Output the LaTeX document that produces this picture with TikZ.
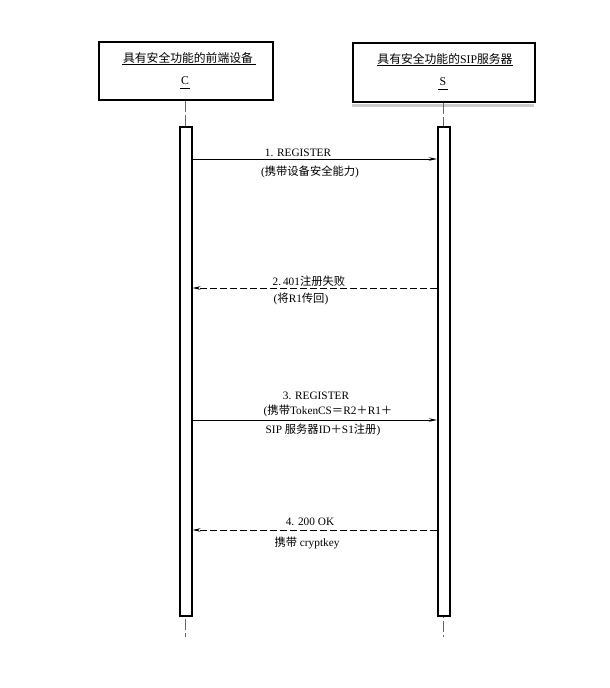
\documentclass[tikz,border=0pt]{standalone}
\usepackage{fontspec}
\setmainfont{Liberation Serif}
\newfontfamily\cjk{Noto Sans CJK SC}
\usetikzlibrary{arrows.meta}
\begin{document}
\begin{tikzpicture}[x=1pt,y=-1pt,
  actor/.style={draw,line width=1.6pt,minimum width=#1,inner sep=0pt,anchor=north west},
  bar/.style={draw,line width=1.5pt,fill=white,minimum width=12pt,inner sep=0pt,anchor=north west},
  life/.style={draw=black!60,line width=1pt,dash pattern=on 11pt off 3pt},
  msg/.style={line width=0.7pt,-{Stealth[length=8pt,width=3.5pt]}},
  reply/.style={msg,dash pattern=on 7pt off 3pt},
  lbl/.style={font=\fontsize{11.3}{13}\selectfont,inner sep=0pt},
  ttl/.style={font=\fontsize{11.8}{13}\selectfont,inner sep=0pt}]
\useasboundingbox (0,0) rectangle (610,688);
% actor boxes
\node[actor=174pt,minimum height=58pt] (boxC) at (98,41) {};
\node[actor=182pt,minimum height=59pt] (boxS) at (352,42) {};
\draw[black!20,line width=2.5pt] (boxS.south west)++(0,3) -- ++(182,0);
\node[ttl] (tC) at (188,58) {\cjk 具有安全功能的前端设备};
\draw[line width=0.7pt] (122,64) -- (256,64);
\node[ttl] (nC) at (185,81) {C};
\draw[line width=0.7pt] (180,88) -- (190,88);
\node[ttl] (tS) at (445,59) {\cjk 具有安全功能的{\rmfamily SIP}服务器};
\draw[line width=0.7pt] (377,65) -- (513,65);
\node[ttl] (nS) at (443,82) {S};
\draw[line width=0.7pt] (438,89) -- (448,89);
% lifelines
\coordinate (endC) at (185,637);
\coordinate (endS) at (443,637);
\draw[life] (boxC.south -| 185,0) -- (endC);
\draw[life] (boxS.south -| 443,0) -- (endS);
% activation bars
\node[bar,minimum height=489pt] (barC) at (179,126) {};
\node[bar,minimum height=489pt] (barS) at (437,126) {};
% message rows
\coordinate (y1) at (0,159);
\coordinate (y2) at (0,288);
\coordinate (y3) at (0,420);
\coordinate (y4) at (0,530);
\draw[msg] (barC.east |- y1) -- (barS.west |- y1);
\draw[reply] (barS.west |- y2) -- (barC.east |- y2);
\draw[msg] (barC.east |- y3) -- (barS.west |- y3);
\draw[reply] (barS.west |- y4) -- (barC.east |- y4);
% labels
\node[lbl] (l1a) at (298,153) {1. REGISTER};
\node[lbl] (l1b) at (310,172) {(\cjk 携带设备安全能力\rmfamily)};
\node[lbl] (l2a) at (309,281) {2.\,401{\cjk 注册失败}};
\node[lbl] (l2b) at (301,299) {(\cjk 将{\rmfamily R1}传回\rmfamily)};
\node[lbl] (l3a) at (316,396) {3. REGISTER};
\node[lbl] (l3b) at (328,411) {({\cjk 携带}TokenCS{\cjk ＝}R2{\cjk ＋}R1{\cjk ＋}};
\node[lbl] (l3c) at (323,430) {SIP {\cjk 服务器}ID{\cjk ＋}S1{\cjk 注册})};
\node[lbl] (l4a) at (310,522) {4. 200 OK};
\node[lbl] (l4b) at (307,543) {{\cjk 携带} cryptkey};
\end{tikzpicture}
\end{document}
